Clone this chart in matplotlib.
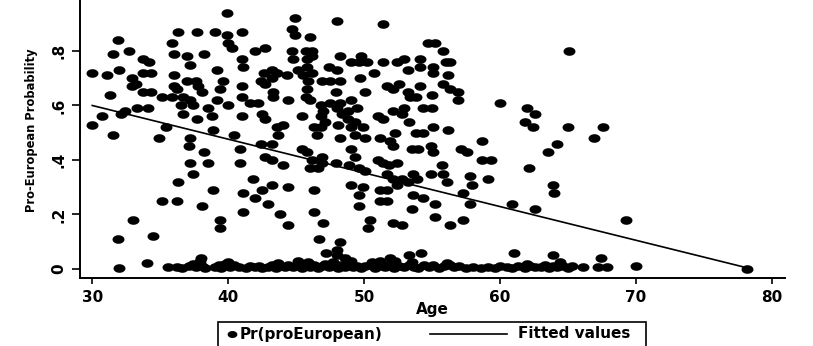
import numpy as np
import matplotlib
matplotlib.use("Agg")
import matplotlib.pyplot as plt
from matplotlib.lines import Line2D
from matplotlib.patches import Rectangle

# ---- data: (Age, Pr(proEuropean)), grouped by region ----
upper_left = [
    (39.9,0.94),(36.3,0.87),(37.7,0.87),(39.0,0.87),(39.9,0.86),(41.0,0.87),
    (31.9,0.84),(35.9,0.83),(40.0,0.83),(40.3,0.81),(32.7,0.80),(31.5,0.79),
    (36.0,0.79),(37.0,0.78),(38.2,0.79),(33.7,0.77),(34.2,0.76),(37.2,0.75),(41.0,0.77),
    (30.0,0.72),(31.1,0.71),(32.0,0.73),(33.7,0.72),(34.3,0.72),(36.0,0.71),(39.2,0.73),(41.1,0.74),
    (32.9,0.70),(33.2,0.68),(32.9,0.67),(37.0,0.69),(37.6,0.69),(39.6,0.69),(36.0,0.67),(37.8,0.67),(41.0,0.67),
    (34.3,0.65),(33.7,0.65),(36.2,0.66),(38.1,0.65),(39.4,0.66),
    (31.3,0.64),(35.1,0.63),(35.9,0.63),(36.7,0.63),(37.2,0.62),(39.2,0.62),(41.0,0.63),
    (36.5,0.60),(37.4,0.60),(38.5,0.59),(40.0,0.60),(33.3,0.59),(34.1,0.59),(36.7,0.57),(32.1,0.57),(32.4,0.58),
    (30.7,0.56),(37.7,0.55),(38.8,0.56),(41.0,0.56),(30.0,0.53),(35.4,0.52),(38.9,0.51),
    (31.5,0.49),(34.9,0.48),(37.2,0.48),(40.4,0.49),
]
upper_mid = [
    (44.9,0.92),(48.0,0.91),(51.4,0.90),(44.7,0.88),(44.9,0.86),(46.0,0.85),
    (42.0,0.80),(42.7,0.81),(44.7,0.80),(45.7,0.80),(46.2,0.80),(44.8,0.77),(45.8,0.77),(46.2,0.78),
    (48.2,0.78),(49.8,0.78),(49.0,0.76),(49.6,0.76),(50.2,0.76),(51.4,0.76),(52.4,0.76),(52.9,0.77),
    (45.1,0.73),(45.8,0.74),(47.4,0.74),(48.0,0.73),(50.7,0.72),(42.6,0.72),(43.2,0.73),(43.6,0.72),
    (42.4,0.69),(42.7,0.68),(43.2,0.70),(44.3,0.71),(45.5,0.71),(45.9,0.69),(46.2,0.72),
    (46.9,0.69),(47.5,0.69),(48.2,0.69),(49.7,0.70),(51.7,0.67),(52.1,0.66),(52.6,0.68),
    (43.3,0.65),(43.3,0.63),(45.8,0.66),(45.7,0.63),(46.0,0.62),(47.9,0.65),(50.1,0.65),(44.4,0.62),
    (41.6,0.61),(42.2,0.61),(46.8,0.60),(47.5,0.61),(48.2,0.61),(49.0,0.62),(49.5,0.59),
    (47.0,0.58),(48.0,0.59),(48.8,0.58),(52.1,0.58),(52.9,0.59),
    (42.5,0.57),(42.7,0.55),(45.4,0.56),(46.8,0.56),(47.1,0.54),(48.4,0.57),(48.8,0.55),(49.3,0.54),
    (51.0,0.56),(51.4,0.55),(43.6,0.52),(44.0,0.53),(46.3,0.52),(46.8,0.52),(48.1,0.53),(49.0,0.52),
    (49.9,0.52),(52.3,0.50),(43.7,0.49),(46.5,0.49),(48.2,0.48),(49.3,0.49),(50.1,0.48),(51.2,0.48),
]
upper_right = [
    (54.7,0.83),(55.2,0.83),(55.8,0.80),(56.0,0.76),(56.3,0.76),(54.1,0.77),(54.1,0.74),
    (53.2,0.73),(55.1,0.74),(55.1,0.72),(56.2,0.71),(54.1,0.67),(55.8,0.68),(56.3,0.66),
    (56.9,0.65),(56.9,0.62),(55.0,0.64),(53.2,0.65),(53.4,0.63),(53.8,0.63),
    (60.0,0.61),(62.0,0.59),(62.6,0.57),(61.8,0.54),(62.4,0.52),(54.3,0.59),(55.0,0.59),
    (52.8,0.57),(53.3,0.54),(55.1,0.52),(56.2,0.51),(53.8,0.50),(54.3,0.50),
    (65.1,0.80),(65.0,0.52),(67.6,0.52),(66.9,0.48),
]
lower_left = [
    (37.1,0.45),(38.2,0.43),(40.9,0.44),(37.2,0.39),(38.5,0.39),(40.9,0.39),(37.4,0.35),
    (36.3,0.32),(38.9,0.29),(41.1,0.28),(35.1,0.25),(36.2,0.25),(38.1,0.23),(41.1,0.21),
    (33.0,0.18),(39.4,0.18),(39.4,0.15),(31.9,0.11),(34.5,0.12),
]
lower_mid = [
    (42.4,0.46),(43.2,0.46),(42.7,0.41),(43.2,0.40),(44.0,0.38),(45.4,0.44),(45.8,0.43),
    (46.2,0.40),(46.0,0.37),(46.6,0.37),(46.9,0.41),(46.9,0.39),(47.9,0.39),(49.0,0.44),
    (49.3,0.41),(48.9,0.38),(49.6,0.37),(50.1,0.36),(51.0,0.40),(51.4,0.39),(51.8,0.38),
    (52.4,0.39),(51.9,0.47),(52.1,0.45),(51.7,0.35),(52.1,0.33),(52.4,0.31),
    (41.8,0.33),(42.0,0.26),(42.5,0.29),(43.2,0.31),(44.4,0.30),(42.9,0.24),(46.3,0.29),
    (49.0,0.31),(49.9,0.30),(49.6,0.27),(49.6,0.23),(51.2,0.29),(51.7,0.29),(51.2,0.25),(51.7,0.25),
    (43.8,0.20),(44.4,0.16),(46.3,0.21),(47.0,0.17),(46.7,0.11),(48.2,0.10),(47.2,0.06),(48.0,0.07),
    (50.4,0.18),(50.3,0.15),(52.1,0.17),(52.8,0.16),
]
lower_right = [
    (58.7,0.47),(53.5,0.44),(54.0,0.44),(54.9,0.45),(55.1,0.43),(57.1,0.44),(57.6,0.43),
    (64.2,0.46),(63.5,0.43),(58.7,0.40),(59.3,0.40),(55.7,0.38),(55.8,0.35),(56.1,0.32),
    (54.9,0.35),(53.6,0.35),(53.9,0.33),(52.8,0.33),(53.2,0.32),(57.8,0.34),(57.9,0.31),
    (59.1,0.33),(62.1,0.37),(63.9,0.31),(64.0,0.28),(53.6,0.27),(54.3,0.26),(57.3,0.28),
    (57.8,0.24),(55.2,0.24),(60.9,0.24),(62.6,0.22),(53.5,0.22),(55.2,0.19),(56.3,0.16),
    (57.3,0.18),(69.3,0.18),
]
near_zero = [
    (53.3,0.05),(54.2,0.06),(61.0,0.06),(63.9,0.05),(67.4,0.04),(45.1,0.03),(48.0,0.05),
    (48.6,0.04),(51.2,0.03),(51.9,0.04),(52.3,0.03),(78.2,0.0),
]
band = [
    (32.0,0.005),(34.0,0.022),(35.6,0.006),(36.2,0.007),(36.6,0.004),
    (37.1,0.012),(37.4,0.020),(37.6,0.006),(37.9,0.030),(38.1,0.012),(38.3,0.004),(38.0,0.040),
    (39.0,0.008),(39.3,0.015),(39.5,0.004),(39.8,0.018),(40.1,0.009),(40.4,0.013),(40.8,0.006),
    (41.3,0.005),(41.6,0.010),(42.0,0.006),(42.3,0.012),(42.5,0.004),(42.9,0.009),(43.2,0.014),
    (43.5,0.005),(43.9,0.011),(44.2,0.007),(44.4,0.016),(44.8,0.006),(45.1,0.012),(45.4,0.004),
    (45.6,0.015),(46.0,0.008),(46.3,0.013),(46.6,0.005),(46.9,0.010),(47.1,0.018),(47.4,0.006),
    (47.7,0.025),(47.9,0.010),(48.1,0.004),(48.3,0.016),(48.6,0.008),(48.9,0.020),(49.2,0.006),
    (49.5,0.012),(49.8,0.004),(50.1,0.010),(50.4,0.015),(50.8,0.005),(51.1,0.012),(51.5,0.007),
    (51.8,0.014),(52.2,0.005),(52.6,0.011),(52.9,0.006),(53.3,0.016),(53.7,0.008),(54.0,0.004),
    (54.4,0.013),(54.8,0.007),(55.1,0.015),(55.5,0.005),(55.9,0.010),(56.3,0.014),(56.6,0.006),
    (57.0,0.012),(57.5,0.004),(58.0,0.009),(58.6,0.005),(59.1,0.008),(59.6,0.004),(60.0,0.011),
    (60.5,0.006),(60.9,0.004),(61.3,0.010),(61.8,0.005),(62.2,0.012),(62.6,0.006),(63.0,0.009),
    (63.3,0.015),(63.6,0.005),(63.9,0.011),(64.2,0.006),(64.6,0.012),(65.0,0.005),(65.3,0.010),
    (66.1,0.006),(67.2,0.008),(67.9,0.009),(70.0,0.012),
    (40.0,0.025),(43.7,0.022),(45.9,0.024),(49.0,0.028),(50.6,0.024),(53.5,0.026),(56.1,0.022),
    (62.0,0.020),(64.4,0.024),
]

fit_age = [30.0, 78.2]
fit_value = [0.600, 0.004]

x_ticks = [30, 40, 50, 60, 70, 80]
y_ticks = [0, 0.2, 0.4, 0.6, 0.8]
y_tick_labels = ["0", ".2", ".4", ".6", ".8"]

points = np.array(upper_left + upper_mid + upper_right + lower_left +
                  lower_mid + lower_right + near_zero + band)
age = points[:, 0]
prob = points[:, 1]

# ---- figure ----
W, H = 813, 346
fig = plt.figure(figsize=(W / 100, H / 100), dpi=100)
ax = fig.add_axes([80 / W, 68 / H, 705 / W, 278 / H])

t = np.linspace(0, 2 * np.pi, 48)
ellipse = list(zip(np.cos(t), 0.72 * np.sin(t)))

ax.plot(age, prob, linestyle="none", marker=ellipse, ms=8.6,
        markerfacecolor="black", markeredgewidth=0, color="black", zorder=2)
ax.plot(fit_age, fit_value, color="black", lw=1.2, zorder=3)

ax.set_xlim(29.1, 80.96)
ax.set_ylim(-0.033, 0.987)
ax.spines["top"].set_visible(False)
ax.spines["right"].set_visible(False)
for s in ("left", "bottom"):
    ax.spines[s].set_linewidth(1.4)

tickfont = dict(family="DejaVu Sans", weight="bold", size=11)
ax.set_xticks(x_ticks)
ax.set_xticklabels([str(v) for v in x_ticks], fontdict=tickfont)
ax.set_yticks(y_ticks)
ax.set_yticklabels(y_tick_labels, fontdict=tickfont, rotation=90, va="center")
ax.tick_params(axis="x", direction="out", length=4, width=1.2, pad=4.5)
ax.tick_params(axis="y", direction="out", length=5.5, width=1.2, pad=4.5)

ax.set_xlabel("Age", fontdict=tickfont)
ax.xaxis.set_label_coords(0.5, -0.086)
ax.set_ylabel("Pro-European Probability",
              family=["Liberation Sans Narrow", "DejaVu Sans"], size=8.3, weight="bold")
ax.yaxis.set_label_coords(-0.06, 0.532)

# ---- legend (drawn in figure pixels) ----
def fx(px):
    return px / W

def fy(py):
    return 1 - py / H

fig.add_artist(Rectangle((fx(218), fy(352)), fx(646) - fx(218), fy(322) - fy(352),
                         transform=fig.transFigure, facecolor="white",
                         edgecolor="black", lw=1.2, zorder=5))
fig.add_artist(Line2D([fx(232)], [fy(334)], marker=ellipse, ms=7, color="black",
                      markeredgewidth=0, transform=fig.transFigure, zorder=6))
fig.text(fx(240), fy(334), "Pr(proEuropean)", ha="left", va="center",
         fontdict=tickfont, zorder=6)
fig.add_artist(Line2D([fx(430), fx(507)], [fy(334), fy(334)], color="black", lw=1.2,
                      transform=fig.transFigure, zorder=6))
fig.text(fx(518), fy(334), "Fitted values", ha="left", va="center",
         fontdict=tickfont, zorder=6)

fig.savefig("out.png", dpi=100)
